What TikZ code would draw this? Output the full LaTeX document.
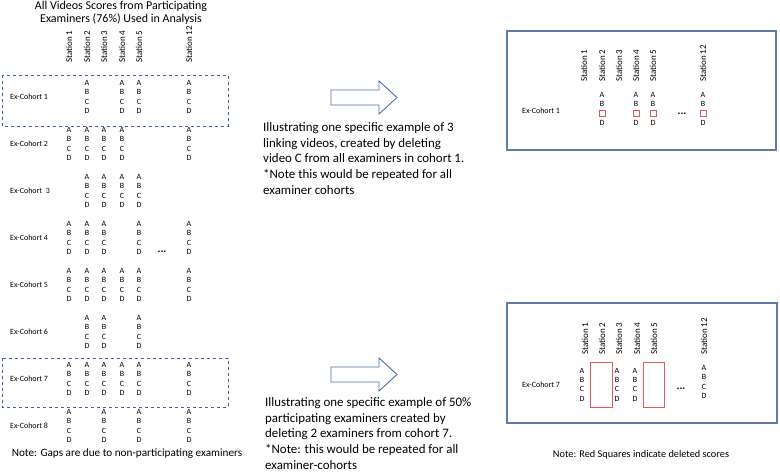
\documentclass[tikz,border=0pt]{standalone}
\usepackage{fontspec}
\setmainfont{Carlito}
\usepackage{xcolor}
\usetikzlibrary{positioning}

\definecolor{frameblue}{RGB}{98,122,168}
\definecolor{arrowblue}{RGB}{78,108,170}
\definecolor{dashblue}{RGB}{60,95,160}
\definecolor{delred}{RGB}{228,88,88}

\tikzset{
  station/.style={rotate=90, anchor=west, inner sep=0pt, font=\fontsize{9}{10}\selectfont},
  score/.style={align=center, inner sep=0pt, font=\fontsize{8}{9.3}\selectfont},
  cohort/.style={anchor=west, inner sep=0pt, font=\fontsize{8}{9}\selectfont},
  dots/.style={inner sep=0pt, font=\fontsize{11}{11}\selectfont\bfseries},
  note/.style={inner sep=0pt, font=\fontsize{11.2}{12}\selectfont},
  explain/.style={anchor=north west, align=left, inner sep=0pt, font=\fontsize{12.9}{15.9}\selectfont},
  panel/.style={draw=frameblue, line width=1.4pt},
  pick/.style={draw=dashblue, dashed, line width=0.9pt},
  bigarrow/.style={draw=arrowblue, line width=0.9pt, line join=miter},
  delsq/.style={draw=delred, line width=0.8pt, minimum size=6pt, inner sep=0pt},
}

\begin{document}
\begin{tikzpicture}[x=1pt, y=-1pt]
    \useasboundingbox (0,0) rectangle (780,472);

    % Titulo
    \node[align=center, inner sep=0pt, font=\fontsize{12}{13}\selectfont] (title) at (121,12.5)
        {All Videos Scores from Participating\\Examiners (76\%) Used in Analysis};

    % Estaciones (izquierda)
    \foreach \n/\x in {1/69, 2/87, 3/104, 4/122, 5/139, 12/189}
        \node[station] (ls\n) at (\x,63) {Station \n};

    % Cohortes con sus videos
    \foreach \k/\y/\cols in {1/97/{87,122,139,189}, 2/144/{69,87,104,122,189},
                             3/191/{87,104,122,139}, 4/238/{69,87,104,139,189},
                             5/285/{69,87,104,122,139,189}, 6/332/{87,104,139},
                             7/379/{69,87,104,122,139,189}, 8/426/{69,104,139,189}}
    {
        \node[cohort] (lc\k) at (10,\y) {Ex-Cohort \ifnum\k=3\ \fi\k};
        \foreach \x in \cols
            \node[score] (v\k-\x) at (\x,\y) {A\\B\\C\\D};
    }
    \node[dots] (ldots) at (162,252) {...};

    % Cohortes elegidas (discontinua)
    \draw[pick] (2,75) rectangle (228,126);
    \draw[pick] (2,358) rectangle (228,407);

    \node[note] (lnote) at (127,454) {Note: Gaps are due to non-participating examiners};

    % Flechas
    \draw[bigarrow] (331,90) -- (379,90) -- (379,81) -- (397,97.5) -- (379,114) -- (379,105) -- (331,105) -- cycle;
    \draw[bigarrow] (331,367) -- (379,367) -- (379,358) -- (397,374.5) -- (379,391) -- (379,382) -- (331,382) -- cycle;

    % Textos del centro
    \node[explain] (txtA) at (263,122) {Illustrating one specific example of 3\\
        linking videos, created by deleting\\
        video C from all examiners in cohort 1.\\
        *Note this would be repeated for all\\
        examiner cohorts};
    \node[explain] (txtB) at (265,397) {Illustrating one specific example of 50\%\\
        participating examiners created by\\
        deleting 2 examiners from cohort 7.\\
        *Note: this would be repeated for all\\
        examiner-cohorts};

    % Ejemplo 1: video C borrado
    \draw[panel] (507,31) rectangle (776,150);
    \foreach \n/\x in {1/584, 2/602, 3/619, 4/636, 5/653, 12/703}
        \node[station] (rs\n) at (\x,82) {Station \n};
    \node[cohort] (rc1) at (522,111) {Ex-Cohort 1};
    \foreach \x in {602,636,653,703}
    {
        \node[score] (w1-\x) at (\x,109) {A\\B\\\phantom{C}\\D};
        \node[delsq] (sq\x) at (\x,113.7) {};
    }
    \node[dots] (rdots1) at (682,114) {...};

    % Ejemplo 2: examinadores borrados
    \draw[panel] (507,303) rectangle (777,423);
    \foreach \n/\x in {1/585, 2/602, 3/619, 4/637, 5/654, 12/704}
        \node[station] (ts\n) at (\x,355) {Station \n};
    \node[cohort] (rc7) at (522,385) {Ex-Cohort 7};
    \foreach \x in {582,617,635}
        \node[score] (w7-\x) at (\x,384.5) {A\\B\\C\\D};
    \node[score] (w7-704) at (704,382) {A\\B\\C\\D};
    \draw[delred, line width=0.8pt] (590,362) rectangle (612,407);
    \draw[delred, line width=0.8pt] (643,362) rectangle (664,407);
    \node[dots] (rdots7) at (681,389) {...};

    \node[note, font=\fontsize{10.3}{12}\selectfont] (rnote) at (641,455) {Note: Red Squares indicate deleted scores};
\end{tikzpicture}
\end{document}
